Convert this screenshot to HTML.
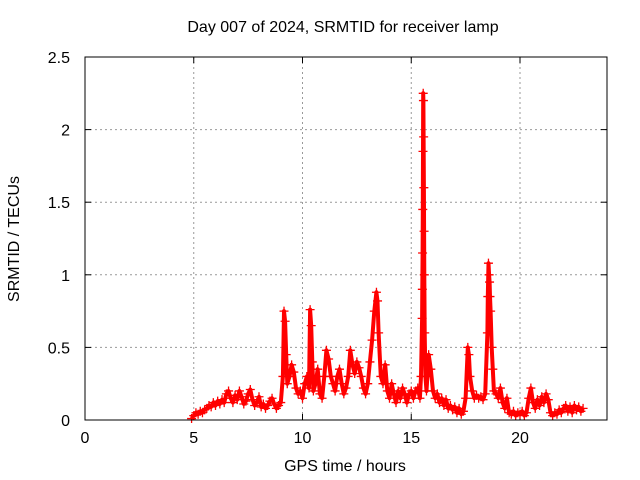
<!DOCTYPE html>
<html><head><meta charset="utf-8"><style>
body{margin:0;background:#fff}
svg{display:block;font-family:"Liberation Sans",sans-serif}
</style></head><body>
<svg id="chart" width="640" height="480">
<text x="343" y="32" text-anchor="middle" font-size="16">Day 007 of 2024, SRMTID for receiver lamp</text>
<g id="grid"></g>
<g id="axes"></g>
<g id="marks"></g>
<text x="345" y="471" text-anchor="middle" font-size="16">GPS time / hours</text>
<text transform="translate(19,239) rotate(-90)" text-anchor="middle" font-size="16">SRMTID / TECUs</text>
<rect x="85" y="57" width="522" height="363" fill="none" stroke="#000" stroke-width="1"/>
</svg>
<script>
const xTicks=[0,5,10,15,20];
const yTicks=[0,0.5,1,1.5,2,2.5];
const yTickLabels=["0","0.5","1","1.5","2","2.5"];
const times=[4.9,5.0,5.1,5.2,5.3,5.4,5.5,5.6,5.7,5.8,5.9,6.0,6.1,6.2,6.3,6.4,6.5,6.6,6.7,6.8,6.9,7.0,7.1,7.2,7.3,7.4,7.5,7.6,7.7,7.8,7.9,8.0,8.1,8.2,8.3,8.4,8.5,8.6,8.7,8.8,8.9,9.0,9.1,9.15,9.2,9.25,9.3,9.4,9.5,9.6,9.7,9.8,9.9,10.0,10.1,10.2,10.3,10.35,10.4,10.45,10.5,10.6,10.7,10.8,10.9,11.0,11.1,11.2,11.3,11.4,11.5,11.6,11.7,11.8,11.9,12.0,12.1,12.2,12.3,12.4,12.5,12.6,12.7,12.8,12.9,13.0,13.1,13.2,13.3,13.4,13.45,13.5,13.6,13.7,13.8,13.9,14.0,14.1,14.2,14.3,14.4,14.5,14.6,14.7,14.8,14.9,15.0,15.1,15.2,15.3,15.4,15.45,15.5,15.51,15.52,15.53,15.54,15.55,15.56,15.57,15.58,15.59,15.6,15.62,15.65,15.7,15.8,15.9,16.0,16.1,16.2,16.3,16.4,16.5,16.6,16.7,16.8,16.9,17.0,17.1,17.2,17.3,17.4,17.5,17.6,17.65,17.7,17.8,17.9,18.0,18.1,18.2,18.3,18.4,18.5,18.52,18.55,18.58,18.6,18.62,18.65,18.7,18.75,18.8,18.9,19.0,19.1,19.2,19.3,19.4,19.5,19.6,19.7,19.8,19.9,20.0,20.1,20.2,20.3,20.4,20.5,20.6,20.7,20.8,20.9,21.0,21.1,21.2,21.3,21.4,21.5,21.6,21.7,21.8,21.9,22.0,22.1,22.2,22.3,22.4,22.5,22.6,22.7,22.8,22.9];
const values=[0.01,0.03,0.05,0.04,0.06,0.05,0.07,0.08,0.1,0.09,0.12,0.1,0.13,0.11,0.14,0.12,0.18,0.2,0.15,0.12,0.17,0.14,0.2,0.16,0.11,0.13,0.18,0.21,0.14,0.1,0.12,0.16,0.09,0.11,0.08,0.1,0.13,0.15,0.11,0.08,0.1,0.12,0.3,0.75,0.68,0.45,0.25,0.3,0.38,0.33,0.22,0.18,0.2,0.15,0.25,0.3,0.22,0.76,0.65,0.4,0.2,0.25,0.35,0.18,0.15,0.3,0.48,0.42,0.3,0.25,0.2,0.3,0.35,0.25,0.18,0.22,0.3,0.48,0.38,0.32,0.4,0.36,0.3,0.22,0.18,0.25,0.4,0.55,0.75,0.88,0.82,0.6,0.3,0.25,0.38,0.2,0.15,0.25,0.18,0.12,0.2,0.15,0.22,0.18,0.12,0.18,0.2,0.15,0.2,0.22,0.15,0.3,0.7,0.9,1.15,1.45,1.85,2.25,2.2,1.95,1.6,1.3,1.0,0.6,0.3,0.2,0.45,0.35,0.2,0.15,0.18,0.12,0.15,0.1,0.14,0.08,0.1,0.07,0.09,0.05,0.08,0.04,0.06,0.15,0.5,0.45,0.3,0.2,0.15,0.17,0.15,0.16,0.14,0.18,0.6,0.85,1.08,1.0,0.95,0.85,0.75,0.5,0.35,0.2,0.18,0.15,0.22,0.12,0.08,0.15,0.05,0.04,0.06,0.03,0.05,0.04,0.06,0.03,0.05,0.15,0.22,0.12,0.08,0.14,0.1,0.16,0.12,0.18,0.14,0.05,0.03,0.05,0.04,0.07,0.05,0.08,0.1,0.06,0.09,0.05,0.1,0.07,0.09,0.06,0.08];
const X0=85,X1=607,Y0=420,Y1=57,XMAX=24,YMAX=2.5;
function xs(t){return X0+(X1-X0)*t/XMAX;}
function ys(v){return Y0-(Y0-Y1)*v/YMAX;}
const NS="http://www.w3.org/2000/svg";
const grid=document.getElementById('grid'),axes=document.getElementById('axes'),marks=document.getElementById('marks');
function mk(tag,attrs,parent){const e=document.createElementNS(NS,tag);for(const k in attrs)e.setAttribute(k,attrs[k]);parent.appendChild(e);return e;}
xTicks.forEach(t=>{
  const x=xs(t);
  if(t>0){const g=mk('line',{x1:x,x2:x,y1:Y1,y2:Y0,stroke:'#999','stroke-dasharray':'2,3'},grid);
  
  }
  mk('line',{x1:x,x2:x,y1:Y0,y2:Y0-6,stroke:'#000'},axes);
  mk('line',{x1:x,x2:x,y1:Y1,y2:Y1+6,stroke:'#000'},axes);
  const l=mk('text',{x:x,y:Y0+23,'text-anchor':'middle','font-size':'16'},axes);
  l.textContent=String(t);
  
  
});
yTicks.forEach((v,i)=>{
  const y=ys(v);
  if(v>0&&v<YMAX){const g=mk('line',{x1:X0,x2:X1,y1:y,y2:y,stroke:'#999','stroke-dasharray':'2,3'},grid);
  
  }
  mk('line',{x1:X0,x2:X0+6,y1:y,y2:y,stroke:'#000'},axes);
  mk('line',{x1:X1,x2:X1-6,y1:y,y2:y,stroke:'#000'},axes);
  const l=mk('text',{x:X0-15,y:y+6,'text-anchor':'end','font-size':'16'},axes);
  l.textContent=yTickLabels[i];
  
  
});
let pts=times.map((t,i)=>xs(t).toFixed(1)+','+ys(values[i]).toFixed(1)).join(' ');
const pl=mk('polyline',{points:pts,fill:'none',stroke:'#f00','stroke-width':'4','stroke-linejoin':'round'},marks);


times.forEach((t,i)=>{
  const x=xs(t),y=ys(values[i]);
  const p=mk('path',{d:`M${x-4.5},${y}h9M${x},${y-4.5}v9`,stroke:'#f00','stroke-width':'1.3',fill:'none'},marks);
  
  
});
</script>
</body></html>
